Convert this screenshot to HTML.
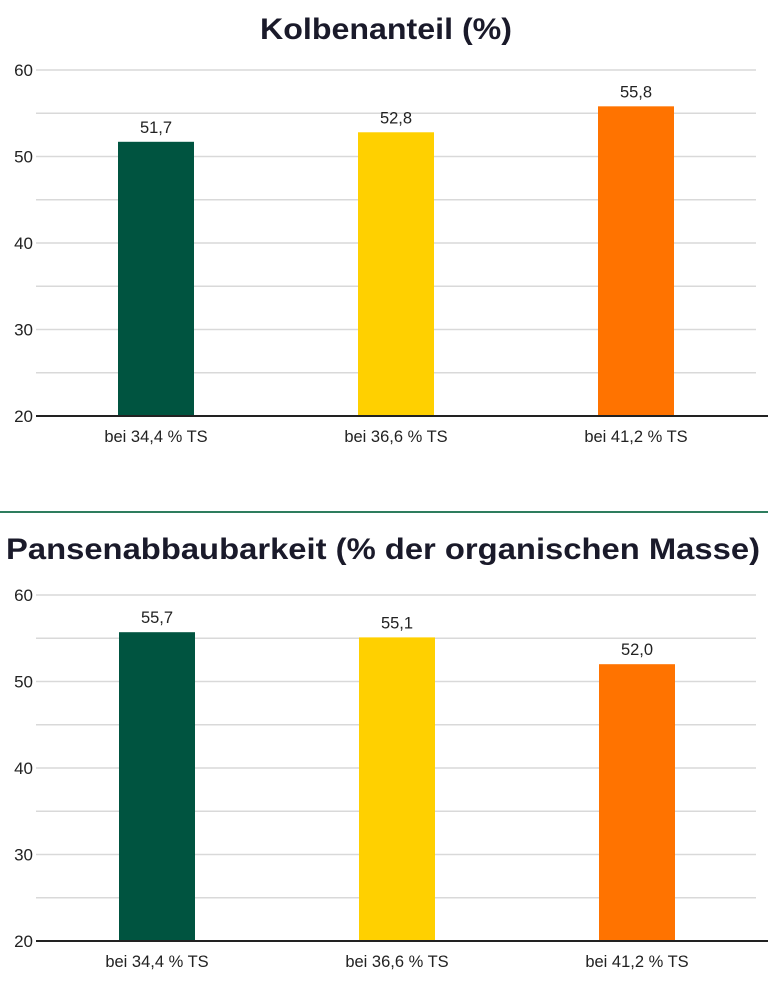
<!DOCTYPE html>
<html><head><meta charset="utf-8"><style>
html,body{margin:0;padding:0;background:#fff;}
svg{display:block;font-family:"Liberation Sans",sans-serif;}
</style></head><body>
<svg id="svg" width="768" height="991" viewBox="0 0 768 991">
<text x="260" y="39" textLength="252" lengthAdjust="spacingAndGlyphs" font-size="30" font-weight="bold" fill="#1a1a2a">Kolbenanteil (%)</text>
<line x1="0" y1="512" x2="768" y2="512" stroke="#2e7d5e" stroke-width="2"/>
<text x="6" y="559" textLength="754" lengthAdjust="spacingAndGlyphs" font-size="30" font-weight="bold" fill="#1a1a2a">Pansenabbaubarkeit (% der organischen Masse)</text>
</svg>
<script>
const categories = ["bei 34,4 % TS","bei 36,6 % TS","bei 41,2 % TS"];
const kolbenValues = [51.7, 52.8, 55.8];
const pansenValues = [55.7, 55.1, 52.0];
const yTicks = [20,30,40,50,60];
const colors = ["#005440","#ffd000","#ff7300"];
const NS="http://www.w3.org/2000/svg";
const svg=document.getElementById('svg');
function mk(tag,attrs,parent){const e=document.createElementNS(NS,tag);for(const k in attrs)e.setAttribute(k,attrs[k]);(parent||svg).appendChild(e);return e;}
function chart(prefix,values,y20,y60,barX0){
  const g=mk('g',{});
  
  
  const y=v=>y20+(v-20)*(y60-y20)/40;
  for(let v=20;v<=60;v+=5){
    if(v===20)continue;
    const l=mk('line',{x1:36,x2:756,y1:y(v),y2:y(v),stroke:'#d9d9d9','stroke-width':1.5},g);
    
    
  }
  yTicks.forEach(t=>{
    const tx=mk('text',{x:33,y:y(t)+6,'text-anchor':'end','font-size':17,fill:'#222'},g);
    tx.textContent=t;
    
    
  });
  values.forEach((v,i)=>{
    const x=barX0+i*240;
    const r=mk('rect',{x:x,y:y(v),width:76,height:y20-y(v),fill:colors[i]},g);
    
    
    const lb=mk('text',{x:x+38,y:y(v)-9,'text-anchor':'middle','font-size':16.5,fill:'#222'},g);
    lb.textContent=v.toFixed(1).replace('.',',');
    
    
    const c=mk('text',{x:x+38,y:y20+26,'text-anchor':'middle','font-size':16.5,fill:'#222'},g);
    c.textContent=categories[i];
    
    
  });
  const ax=mk('line',{x1:36,x2:768,y1:y20,y2:y20,stroke:'#222','stroke-width':2},g);
  
  
}
chart('kolben',kolbenValues,416,70,118);
chart('pansen',pansenValues,941,595,119);
</script>
</body></html>
